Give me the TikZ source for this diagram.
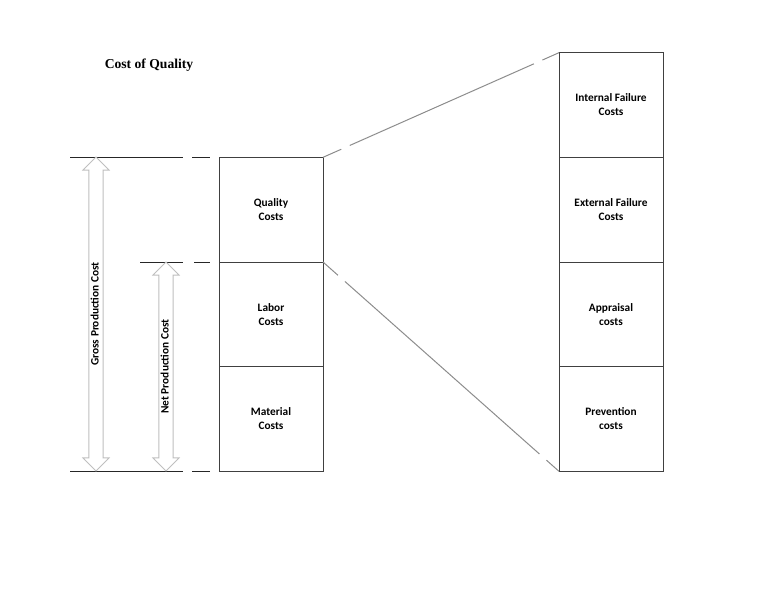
\documentclass[tikz,border=0pt]{standalone}
\usepackage{fontspec}
\setmainfont{Liberation Serif}
\newfontfamily\boxfont{Carlito}
\usetikzlibrary{positioning,shapes.arrows}

\begin{document}
\begin{tikzpicture}[x=0.75pt, y=-0.75pt, line width=0.75pt,
		node distance=0pt,
		costbox/.style={draw=black!75, minimum width=78pt, minimum height=78.5pt, inner sep=0pt, outer sep=0pt,
			align=center, font=\boxfont\bfseries\fontsize{8.5}{10.5}\selectfont},
		costarrow/.style={double arrow, draw=black!25, fill=white, rotate=90, inner xsep=0pt, inner ysep=1.3pt,
			double arrow head extend=4.5pt, text height=5.6pt, text depth=1.6pt,
			font=\boxfont\bfseries\fontsize{8.5}{10}\selectfont},
		gapline/.style={draw=black!45, dash pattern=on 15pt off 7pt on #1 off 7pt on 20pt}]
	\useasboundingbox (0,0) rectangle (768,594);

	% Titel
	\node[font=\bfseries\fontsize{10.2}{12}\selectfont] (title) at (149,65) {Cost of Quality};

	% linker Stapel
	\node[costbox] (material) at (271,419) {Material\\Costs};
	\node[costbox, above=of material] (labor) {Labor\\Costs};
	\node[costbox, above=of labor] (quality) {Quality\\Costs};

	% rechter Stapel
	\node[costbox] (prevention) at (611,419) {Prevention\\costs};
	\node[costbox, above=of prevention] (appraisal) {Appraisal\\costs};
	\node[costbox, above=of appraisal] (external) {External Failure\\Costs};
	\node[costbox, above=of external] (internal) {Internal Failure\\Costs};

	% Verbindungslinien
	\draw[gapline=151pt] (quality.north east) -- (internal.north west);
	\draw[gapline=195pt] (quality.south east) -- (prevention.south west);

	% Hilfslinien links
	\coordinate (gtop) at (70,157);
	\coordinate (ntop) at (140,262);
	\coordinate (bot) at (70,471);
	\draw[black!85] (gtop) -- (183,157) (192,157) -- (210,157);
	\draw[black!85] (ntop) -- (183,262) (194,262) -- (210,262);
	\draw[black!85] (bot) -- (183,471) (192,471) -- (210,471);

	% Pfeile
	\node[costarrow, minimum height=235.5pt] (gross) at (96,314) {Gross Production Cost};
	\node[costarrow, minimum height=156.75pt] (net) at (166,366.5) {Net Production Cost};
\end{tikzpicture}
\end{document}
